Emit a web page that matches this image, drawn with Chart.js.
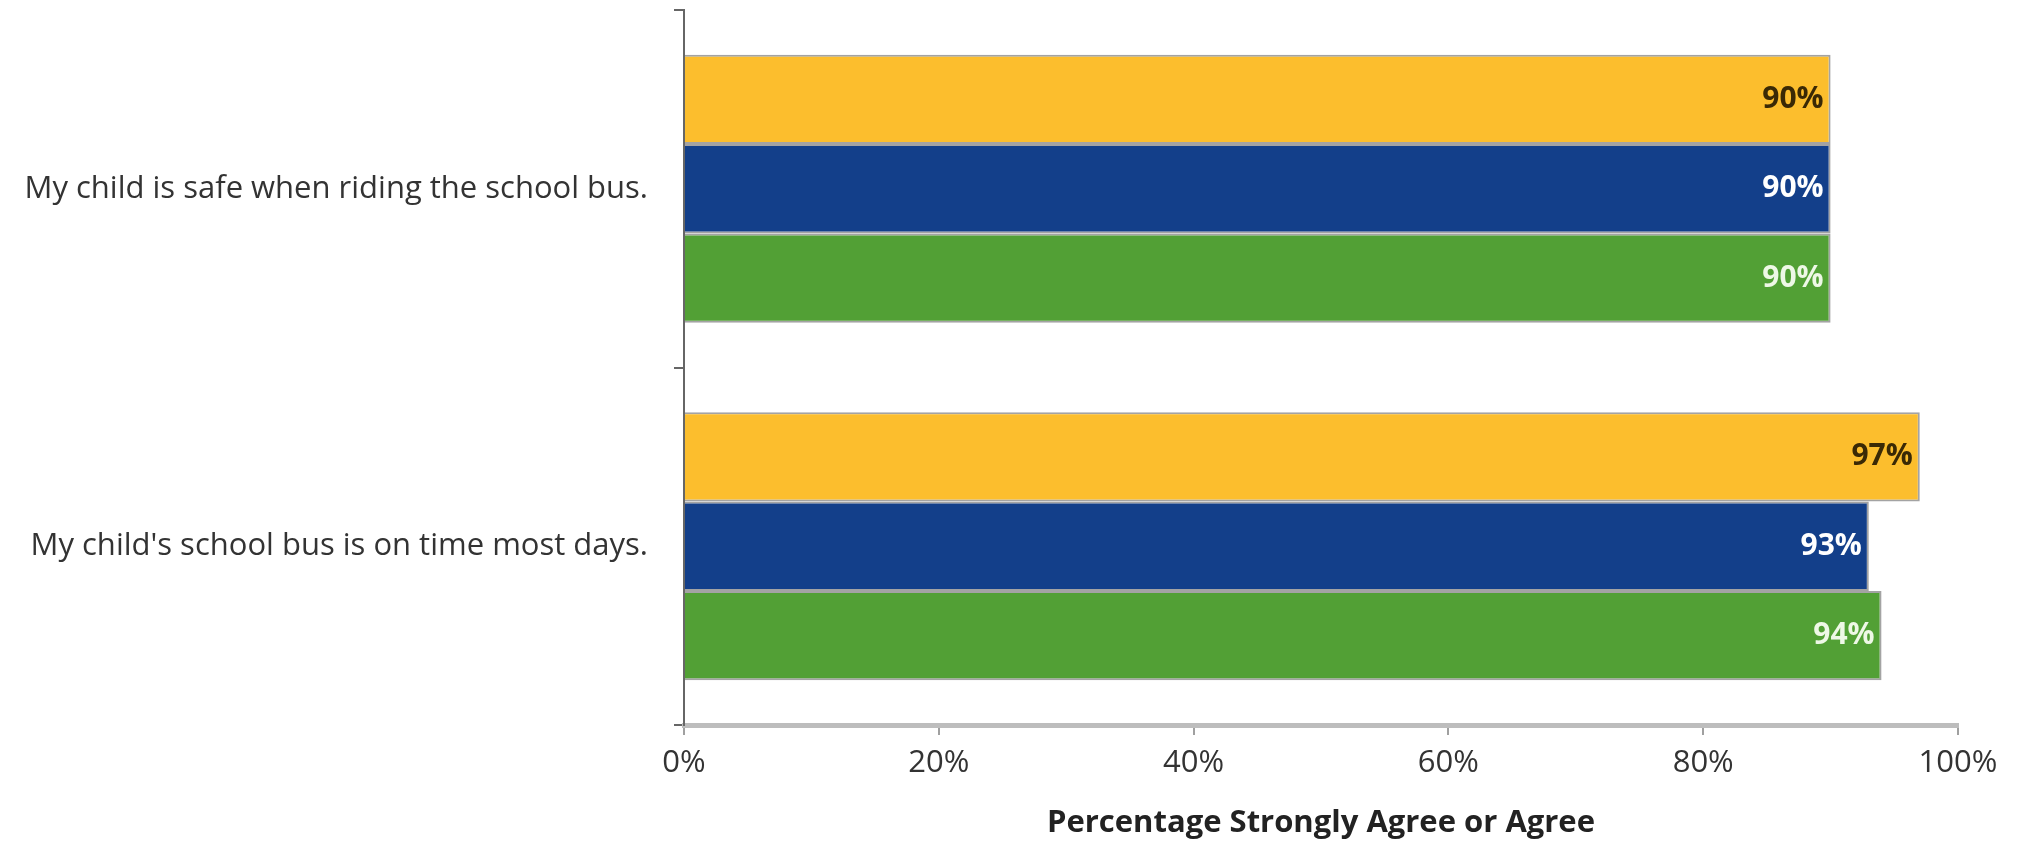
<!DOCTYPE html>
<html lang="en">
<head>
    <meta charset="UTF-8">
    <title>School Bus Survey</title>
    <script src="https://cdn.jsdelivr.net/npm/chart.js"></script>
    <style>
        body { margin: 0; background: #fff; }
    </style>
</head>
<body>
    <canvas id="chart" width="2020" height="846"></canvas>
    <script>
        const categories = ['My child is safe when riding the school bus.',
                            "My child's school bus is on time most days."];
        const seriesNames  = ['Series 1', 'Series 2', 'Series 3'];
        const yellowValues = [90, 97];
        const blueValues   = [90, 93];
        const greenValues  = [90, 94];
        const xTicks       = [0, 20, 40, 60, 80, 100];

        const labelColors = ['#3a2905', '#ffffff', '#eef8e6'];

        const barLabels = {
            id: 'barLabels',
            afterDatasetsDraw(chart) {
                const ctx = chart.ctx;
                ctx.save();
                ctx.font = 'bold 30px "Open Sans"';
                ctx.textAlign = 'right';
                ctx.textBaseline = 'middle';
                chart.data.datasets.forEach((ds, i) => {
                    const meta = chart.getDatasetMeta(i);
                    ctx.fillStyle = labelColors[i];
                    meta.data.forEach((bar, j) => {
                        ctx.fillText(ds.data[j] + '%', bar.x - 7, bar.y);
                    });
                });
                ctx.restore();
            }
        };

        const ctx = document.getElementById('chart').getContext('2d');

        new Chart(ctx, {
            type: 'bar',
            data: {labels: categories,
                   datasets: [{label: seriesNames[0], data: yellowValues, backgroundColor: '#fcbe2d'},
                              {label: seriesNames[1], data: blueValues,   backgroundColor: '#133f8a'},
                              {label: seriesNames[2], data: greenValues,  backgroundColor: '#52a035'}]},
            options: {
                indexAxis: 'y',
                responsive: false,
                animation: false,
                datasets: {bar: {barPercentage: 1.0,
                                 categoryPercentage: 0.75,
                                 borderWidth: 2,
                                 borderColor: 'rgba(140,140,140,0.8)'}},
                layout: {padding: {top: 10, right: 62, left: 0, bottom: 0}},
                plugins: {legend: {display: false},
                          tooltip: {enabled: false}},
                scales: {
                    x: {min: 0, max: 100,
                        afterBuildTicks: (axis) => { axis.ticks = xTicks.map(v => ({value: v})); },
                        afterFit: (axis) => { axis.height = 121; },
                        ticks: {callback: v => v + '%',
                                color: '#333',
                                font: {family: 'Open Sans', size: 31},
                                padding: 10},
                        grid: {drawOnChartArea: false, tickLength: 10, color: '#a0a0a0', lineWidth: 2},
                        border: {color: '#bdbdbd', width: 5},
                        title: {display: true,
                                text: 'Percentage Strongly Agree or Agree',
                                color: '#222',
                                font: {family: 'Open Sans', size: 31, weight: 'bold'},
                                padding: {top: 0, bottom: 4}}},
                    y: {afterFit: (axis) => { axis.width = 684; axis.paddingTop = 0; axis.paddingBottom = 0; },
                        ticks: {color: '#333',
                                font: {family: 'Open Sans', size: 31},
                                padding: 26},
                        grid: {offset: true, drawOnChartArea: false, tickLength: 10, color: '#666', lineWidth: 2},
                        border: {color: '#666', width: 2}}
                }
            },
            plugins: [barLabels]
        });
    </script>
</body>
</html>
